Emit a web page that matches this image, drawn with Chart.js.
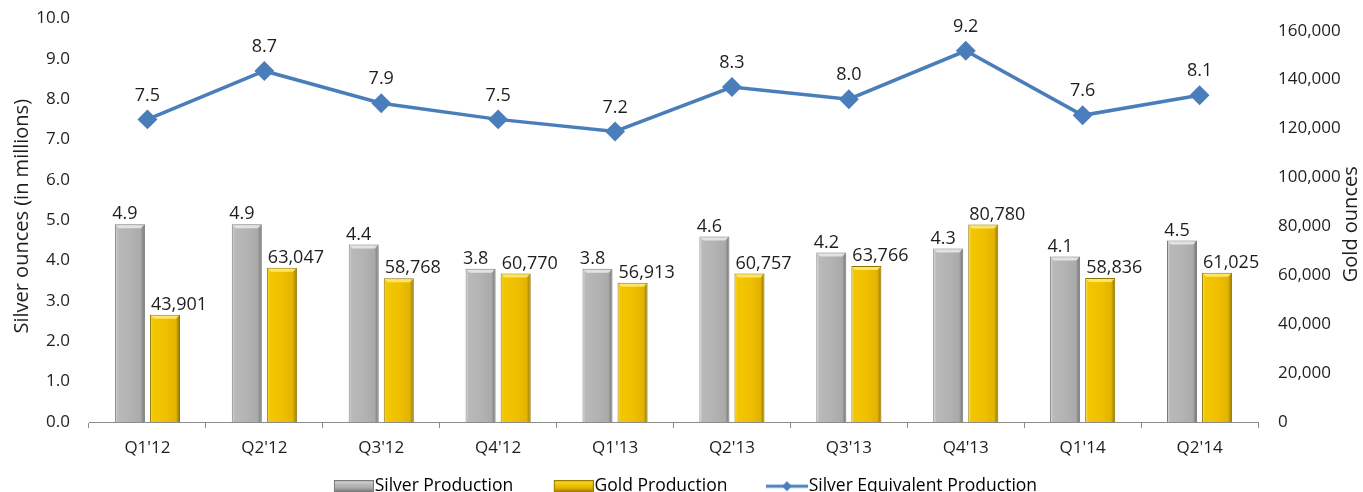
<!DOCTYPE html>
<html>
<head>
<meta charset="utf-8">
<script src="https://cdn.jsdelivr.net/npm/chart.js@4.4.1/dist/chart.umd.min.js"></script>
<style>
  html, body { margin: 0; padding: 0; background: #ffffff; }
  #wrap { width: 1363px; height: 492px; position: relative; }
</style>
</head>
<body>
<div id="wrap"><canvas id="c" width="1363" height="492"></canvas></div>
<script>
const categories = ["Q1'12", "Q2'12", "Q3'12", "Q4'12", "Q1'13", "Q2'13", "Q3'13", "Q4'13", "Q1'14", "Q2'14"];
const silverProduction = [4.9, 4.9, 4.4, 3.8, 3.8, 4.6, 4.2, 4.3, 4.1, 4.5];
const goldProduction = [43901, 63047, 58768, 60770, 56913, 60757, 63766, 80780, 58836, 61025];
const silverEquivalent = [7.5, 8.7, 7.9, 7.5, 7.2, 8.3, 8.0, 9.2, 7.6, 8.1];
const leftTicks = [0, 1, 2, 3, 4, 5, 6, 7, 8, 9, 10];
const rightTicks = [0, 20000, 40000, 60000, 80000, 100000, 120000, 140000, 160000];

const FONT = "'Open Sans', 'Liberation Sans', sans-serif";
const TEXT = '#1e1e1e';
const CAT_PCT = 0.6, BAR_PCT = 0.857;

const silverStops = ['#dedede', '#b9b9b9', '#b3b3b3', '#aaaaaa', '#6e6e6e'];
const goldStops = ['#fadc50', '#f2c600', '#f0c000', '#e3b400', '#8f7300'];

function barGradient(ctx, dsIndex, stops) {
  const chart = ctx.chart;
  const xs = chart.scales && chart.scales.x;
  if (!xs || ctx.dataIndex === undefined || !isFinite(xs.width) || xs.width <= 0) return stops[2];
  const cat = xs.width / categories.length;
  const slot = cat * CAT_PCT / 2;
  const w = slot * BAR_PCT;
  const center = xs.getPixelForValue(ctx.dataIndex) + (dsIndex - 0.5) * slot;
  const g = chart.ctx.createLinearGradient(center - w / 2, 0, center + w / 2, 0);
  g.addColorStop(0, stops[0]);
  g.addColorStop(0.1, stops[1]);
  g.addColorStop(0.5, stops[2]);
  g.addColorStop(0.86, stops[3]);
  g.addColorStop(1, stops[4]);
  return g;
}

// legend swatch images: visible part at the right of a wider transparent canvas
const SW_W = 60, SW_IMG = 76;
function makeSwatch(stops, border) {
  const cv = document.createElement('canvas');
  cv.width = SW_IMG; cv.height = 12;
  const c = cv.getContext('2d');
  const x0 = SW_IMG - 40;
  const g = c.createLinearGradient(0, 0, 0, 12);
  g.addColorStop(0, stops[0]);
  g.addColorStop(0.35, stops[1]);
  g.addColorStop(0.65, stops[3]);
  g.addColorStop(1, stops[4]);
  c.fillStyle = g;
  c.fillRect(x0, 0, 40, 12);
  c.strokeStyle = border;
  c.lineWidth = 1;
  c.strokeRect(x0 + 0.5, 0.5, 39, 11);
  return cv;
}
function makeLineSwatch(color) {
  const cv = document.createElement('canvas');
  cv.width = SW_IMG; cv.height = 12;
  const c = cv.getContext('2d');
  const x0 = SW_IMG - 42;
  c.strokeStyle = color; c.lineWidth = 3;
  c.beginPath(); c.moveTo(x0, 6); c.lineTo(SW_IMG, 6); c.stroke();
  c.fillStyle = color;
  const cx = x0 + 21;
  c.beginPath(); c.moveTo(cx, 1); c.lineTo(cx + 5, 6); c.lineTo(cx, 11); c.lineTo(cx - 5, 6); c.closePath(); c.fill();
  return cv;
}
const silverSwatch = makeSwatch(silverStops, '#7a7a7a');
const goldSwatch = makeSwatch(goldStops, '#9a7c00');
const lineSwatch = makeLineSwatch('#4a7ebb');

const legendShift = {
  id: 'legendShift',
  afterLayout(chart) {
    if (chart.legend) {
      chart.legend.left -= 10; chart.legend.right -= 10;
      chart.legend.top += 3; chart.legend.bottom += 3;
    }
  }
};

const barBevel = {
  id: 'barBevel',
  afterDatasetDraw(chart, args) {
    const meta = args.meta;
    if (meta.type !== 'bar') return;
    const ctx = chart.ctx;
    ctx.save();
    meta.data.forEach((el) => {
      const w = el.width;
      const l = el.x - w / 2 + 1, r = el.x + w / 2 - 1;
      const y = el.y + 1;
      ctx.fillStyle = args.index === 0 ? 'rgba(235,235,235,0.85)' : 'rgba(255,236,120,0.85)';
      ctx.beginPath();
      ctx.moveTo(l, y); ctx.lineTo(r, y); ctx.lineTo(r - 3, y + 3); ctx.lineTo(l + 3, y + 3); ctx.closePath();
      ctx.fill();
    });
    ctx.restore();
  }
};

const valueLabels = {
  id: 'valueLabels',
  afterDatasetsDraw(chart) {
    const ctx = chart.ctx;
    ctx.save();
    ctx.fillStyle = TEXT;
    ctx.textBaseline = 'bottom';
    ctx.font = '18px ' + FONT;
    chart.data.datasets.forEach((ds, di) => {
      const meta = chart.getDatasetMeta(di);
      meta.data.forEach((el, i) => {
        const v = ds.data[i];
        if (di === 0) {
          ctx.textAlign = 'center';
          ctx.fillText(v.toFixed(1), el.x - 5, el.y - 1);
        } else if (di === 1) {
          ctx.textAlign = 'left';
          ctx.fillText(v.toLocaleString('en-US'), el.x - el.width / 2 + 1, el.y - 1);
        } else {
          ctx.textAlign = 'center';
          ctx.fillText(v.toFixed(1), el.x, el.y - 15);
        }
      });
    });
    ctx.restore();
  }
};

const axisTitles = {
  id: 'axisTitles',
  afterDraw(chart) {
    const ctx = chart.ctx;
    const a = chart.chartArea;
    const cy = (a.top + a.bottom) / 2;
    ctx.save();
    ctx.fillStyle = TEXT;
    ctx.font = '20px ' + FONT;
    ctx.textAlign = 'center';
    ctx.textBaseline = 'middle';
    ctx.translate(22, cy - 4);
    ctx.rotate(-Math.PI / 2);
    ctx.fillText('Silver ounces (in millions)', 0, 0);
    ctx.restore();
    ctx.save();
    ctx.fillStyle = TEXT;
    ctx.font = '20px ' + FONT;
    ctx.textAlign = 'center';
    ctx.textBaseline = 'middle';
    ctx.translate(1351, cy + 4);
    ctx.rotate(-Math.PI / 2);
    ctx.fillText('Gold ounces', 0, 0);
    ctx.restore();
  }
};

new Chart(document.getElementById('c'), {
  data: {
    labels: categories,
    datasets: [
      {
        type: 'bar', label: 'Silver Production', data: silverProduction, yAxisID: 'y',
        backgroundColor: (ctx) => barGradient(ctx, 0, silverStops),
        borderColor: '#7a7a7a', borderWidth: 1,
        categoryPercentage: CAT_PCT, barPercentage: BAR_PCT, order: 2
      },
      {
        type: 'bar', label: 'Gold Production', data: goldProduction, yAxisID: 'y2',
        backgroundColor: (ctx) => barGradient(ctx, 1, goldStops),
        borderColor: '#8f7300', borderWidth: 1,
        categoryPercentage: CAT_PCT, barPercentage: BAR_PCT, order: 2
      },
      {
        type: 'line', label: 'Silver Equivalent Production', data: silverEquivalent, yAxisID: 'y',
        borderColor: '#4a7ebb', backgroundColor: '#4a7ebb', borderWidth: 3.5,
        pointStyle: 'rectRot', pointRadius: 7.5, pointHoverRadius: 7.5,
        tension: 0, order: 1
      }
    ]
  },
  options: {
    responsive: false,
    animation: false,
    events: [],
    layout: { padding: { top: 18.5, left: 0, right: 0, bottom: -10 } },
    plugins: {
      tooltip: { enabled: false },
      legend: {
        display: true,
        position: 'bottom',
        labels: {
          usePointStyle: true,
          pointStyleWidth: SW_W,
          padding: 12.5,
          color: TEXT,
          font: { family: FONT, size: 17.5 },
          generateLabels: () => [
            { text: 'Silver Production', pointStyle: silverSwatch, fillStyle: '#b3b3b3', strokeStyle: '#7f7f7f', lineWidth: 0, datasetIndex: 0 },
            { text: 'Gold Production', pointStyle: goldSwatch, fillStyle: '#efc000', strokeStyle: '#9a7c00', lineWidth: 0, datasetIndex: 1 },
            { text: 'Silver Equivalent Production', pointStyle: lineSwatch, fillStyle: '#4a7ebb', strokeStyle: '#4a7ebb', lineWidth: 0, datasetIndex: 2 }
          ]
        }
      }
    },
    scales: {
      x: {
        type: 'category',
        offset: true,
        grid: { display: true, drawOnChartArea: false, drawTicks: true, tickLength: 6, color: '#8c8c8c', offset: true },
        border: { display: true, color: '#8c8c8c', width: 1 },
        ticks: { color: TEXT, font: { family: FONT, size: 17 }, padding: 10, maxRotation: 0, autoSkip: false },
        afterFit: (s) => { s.height = 40; }
      },
      y: {
        type: 'linear', position: 'left', min: 0, max: 10,
        afterBuildTicks: (s) => { s.ticks = leftTicks.map(v => ({ value: v })); },
        ticks: { color: TEXT, font: { family: FONT, size: 17 }, padding: 1, callback: (v) => Number(v).toFixed(1) },
        grid: { display: false, drawTicks: true, tickLength: 18 },
        border: { display: false },
        afterFit: (s) => { s.width = 89; }
      },
      y2: {
        type: 'linear', position: 'right', min: 0, max: 165000,
        afterBuildTicks: (s) => { s.ticks = rightTicks.map(v => ({ value: v })); },
        ticks: { color: TEXT, font: { family: FONT, size: 17 }, padding: 1, callback: (v) => Number(v).toLocaleString('en-US') },
        grid: { display: false, drawTicks: true, tickLength: 19 },
        border: { display: false },
        afterFit: (s) => { s.width = 105; }
      }
    }
  },
  plugins: [legendShift, barBevel, valueLabels, axisTitles]
});
</script>
</body>
</html>
